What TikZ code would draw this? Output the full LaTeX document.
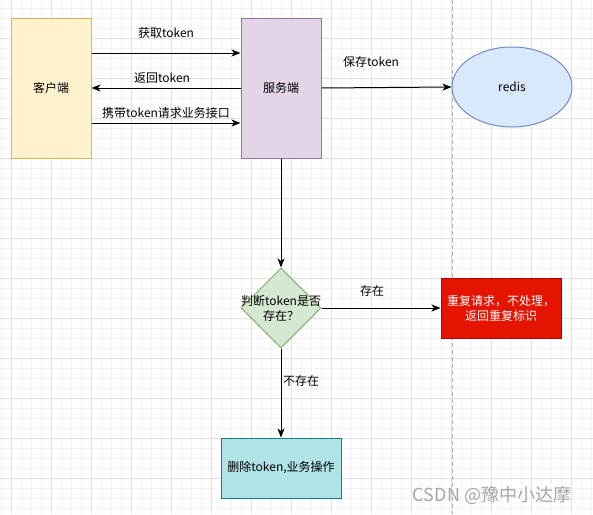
\documentclass[tikz,border=0pt]{standalone}
\usepackage{fontspec}
\setmainfont{Noto Sans CJK SC}
\usetikzlibrary{arrows.meta,shapes.geometric}
\definecolor{clientfill}{HTML}{FFF2CC}
\definecolor{clientdraw}{HTML}{D6B656}
\definecolor{serverfill}{HTML}{E1D5E7}
\definecolor{serverdraw}{HTML}{9673A6}
\definecolor{redisfill}{HTML}{DAE8FC}
\definecolor{redisdraw}{HTML}{6C8EBF}
\definecolor{decfill}{HTML}{D5E8D4}
\definecolor{decdraw}{HTML}{82B366}
\definecolor{redfill}{HTML}{E51400}
\definecolor{reddraw}{HTML}{B20000}
\definecolor{tealfill}{HTML}{B0E3E6}
\definecolor{tealdraw}{HTML}{0E8088}
\definecolor{gridminor}{HTML}{F3F3F3}
\definecolor{gridmajor}{HTML}{E0E0E0}
\tikzset{
  base/.style={draw, line width=1pt, inner sep=0pt, font=\fontsize{12}{15}\selectfont, align=center},
  boxnode/.style={base, rectangle, minimum width=80pt, minimum height=140pt},
  lbl/.style={inner sep=0pt, font=\fontsize{12}{15}\selectfont, align=center},
  conn/.style={line width=1pt, -{Stealth[length=9pt,width=7pt,inset=2.5pt]}},
}
\begin{document}
\begin{tikzpicture}[x=1pt,y=-1pt]
\useasboundingbox (0,0) rectangle (593,514);
\fill[white] (0,0) rectangle (593,514);
% grid
\foreach \x in {1,11,...,591} \draw[gridminor, line width=0.8pt] (\x,0) -- (\x,514);
\foreach \y in {8,18,...,508} \draw[gridminor, line width=0.8pt] (0,\y) -- (593,\y);
\foreach \x in {11,51,...,571} \draw[gridmajor, line width=0.8pt] (\x,0) -- (\x,514);
\foreach \y in {-2,38,...,518} \draw[gridmajor, line width=0.8pt] (0,\y) -- (593,\y);
% dashed separator
\coordinate (septop) at (452,0);
\coordinate (sepbot) at (452,514);
\draw[gray!60, line width=0.8pt, dash pattern=on 4pt off 3pt] (septop) -- (sepbot);
% nodes
\node[boxnode, fill=clientfill, draw=clientdraw] (client) at (51,88) {客户端};
\node[boxnode, fill=serverfill, draw=serverdraw] (server) at (281,88) {服务端};
\node[base, ellipse, fill=redisfill, draw=redisdraw, minimum width=120pt, minimum height=80pt] (redis) at (512,87) {redis};
\node[base, diamond, fill=decfill, draw=decdraw, minimum width=80pt, minimum height=80pt] (dec) at (281,308) {};
\node[lbl] (dectext) at (281,308) {判断token是否\\存在？};
\node[base, rectangle, fill=redfill, draw=reddraw, text=white, minimum width=120pt, minimum height=60pt] (dup) at (501,308) {重复请求，不处理，\\返回重复标识};
\node[base, rectangle, fill=tealfill, draw=tealdraw, minimum width=120pt, minimum height=60pt] (del) at (281,468) {删除token,业务操作};
% connectors
\draw[conn] (client.east |- 0,53) -- (server.west |- 0,53);
\draw[conn] (server.west |- 0,88) -- (client.east |- 0,88);
\draw[conn] (client.east |- 0,123) -- (server.west |- 0,123);
\draw[conn] (server.east |- 0,88) -- (redis.west);
\draw[conn] (server.south) -- (dec.north);
\draw[conn] (dec.east) -- (dup.west);
\draw[conn] (dec.south) -- (del.north);
% labels
\node[lbl] (l1) at (166,33) {获取token};
\node[lbl] (l2) at (162,78) {返回token};
\node[lbl] (l3) at (166,113) {携带token请求业务接口};
\node[lbl] (l4) at (371,62) {保存token};
\node[lbl] (l5) at (372,291) {存在};
\node[lbl] (l6) at (301,381) {不存在};
% watermark
\node[inner sep=0pt, text=gray!70, font=\fontsize{18}{18}\selectfont] (wm) at (492,495) {CSDN @豫中小达摩};
\end{tikzpicture}
\end{document}
